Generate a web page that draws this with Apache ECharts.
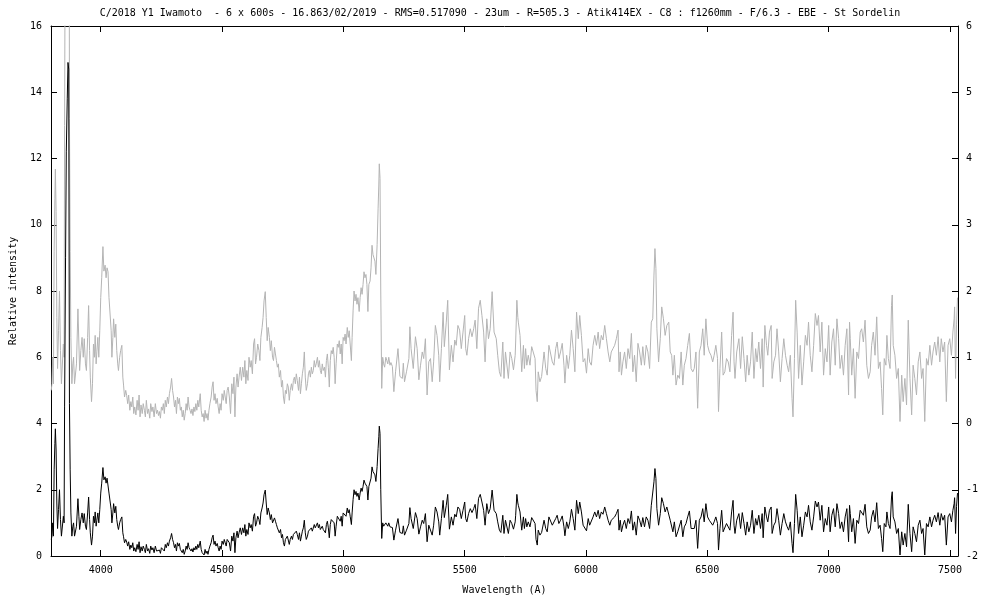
<!DOCTYPE html>
<html>
<head>
<meta charset="utf-8">
<script src="https://cdn.jsdelivr.net/npm/echarts@6/dist/echarts.min.js"></script>
<style>
html,body{margin:0;padding:0;background:#fff;}
#chart{width:1000px;height:600px;}
</style>
</head>
<body>
<div id="chart"></div>
<script>
const titleText = "C/2018 Y1 Iwamoto  - 6 x 600s - 16.863/02/2019 - RMS=0.517090 - 23um - R=505.3 - Atik414EX - C8 : f1260mm - F/6.3 - EBE - St Sordelin";
const xTicks = [4000, 4500, 5000, 5500, 6000, 6500, 7000, 7500];
const xRange = [3795, 7533];
const leftRange = [0, 16, 2];
const rightRange = [-2, 6, 1];

// spectrum segments: [wavelength (A), relative intensity]
const seg3800 = [[3796,0.5],[3799,0.6],[3802,1.0],[3805,0.6],[3808,2.6],[3811,3.4],[3813,3.84],[3816,3.2],[3819,1.6],[3822,0.83],[3826,1.4],[3830,2.0],[3834,1.1],[3838,0.6],[3842,0.58],[3846,1.2],[3849,1.0],[3851,4.5],[3855,9.0],[3858,12.2],[3862,13.8],[3865,14.9],[3868,14.7],[3871,4.6],[3874,2.6],[3877,1.3],[3881,0.6],[3885,0.9]];
const seg3900 = [[3888,1.0],[3892,0.6],[3896,0.58],[3900,0.9],[3906,1.73],[3910,1.2],[3913,0.8],[3918,1.1],[3923,1.3],[3928,1.0],[3932,1.28],[3937,0.9],[3941,0.8],[3946,1.3],[3950,1.78],[3954,1.1],[3957,0.7],[3962,0.33],[3966,0.6],[3970,1.2],[3974,1.0],[3977,1.33],[3981,0.9],[3984,1.08],[3988,1.3],[3992,1.0],[3996,1.4],[4000,1.9],[4004,2.2],[4009,2.67],[4013,2.3],[4018,2.39],[4022,2.2],[4026,2.35],[4030,2.29],[4034,1.9],[4039,1.89],[4043,1.4],[4046,1.0],[4050,1.3],[4053,1.58],[4058,1.3],[4062,1.5],[4066,1.1],[4070,0.9],[4073,0.8],[4078,1.0],[4082,1.1],[4087,1.18],[4091,0.7],[4094,0.58],[4098,0.4],[4103,0.5],[4107,0.42]];
const seg4100 = [[4111,0.30],[4115,0.43],[4120,0.2],[4124,0.33],[4128,0.25],[4132,0.4],[4136,0.15],[4140,0.25],[4145,0.13],[4150,0.35],[4154,0.2],[4158,0.43],[4162,0.1],[4166,0.28],[4171,0.15],[4175,0.3],[4180,0.2],[4184,0.1],[4188,0.35],[4193,0.15],[4197,0.22],[4202,0.08],[4206,0.3],[4211,0.18],[4215,0.25],[4220,0.1],[4225,0.3],[4230,0.15],[4234,0.2],[4238,0.12],[4242,0.18],[4246,0.08],[4250,0.25],[4254,0.2],[4258,0.3],[4262,0.15],[4266,0.35],[4270,0.25],[4275,0.4],[4279,0.3],[4283,0.45],[4288,0.55],[4292,0.68],[4296,0.5],[4300,0.4],[4304,0.25],[4308,0.35],[4312,0.15],[4316,0.4],[4320,0.3],[4324,0.38],[4328,0.2],[4332,0.25],[4336,0.1],[4340,0.2],[4344,0.05],[4348,0.15],[4352,0.3],[4356,0.2],[4360,0.4],[4364,0.25],[4368,0.2],[4372,0.15],[4376,0.22],[4380,0.12],[4384,0.25],[4388,0.18],[4392,0.3],[4396,0.2],[4400,0.35],[4404,0.25],[4410,0.45],[4414,0.2],[4418,0.1],[4422,0.15],[4426,0.03],[4430,0.2],[4434,0.08],[4438,0.15],[4442,0.05],[4446,0.2],[4450,0.3],[4455,0.4],[4459,0.55],[4463,0.63],[4467,0.35],[4471,0.45],[4475,0.3],[4480,0.38],[4484,0.25],[4488,0.15],[4492,0.3],[4496,0.2],[4500,0.45],[4505,0.35],[4509,0.5],[4513,0.4],[4517,0.3],[4521,0.5],[4525,0.55],[4530,0.4],[4535,0.15],[4540,0.6],[4545,0.45],[4549,0.7],[4553,0.1],[4557,0.55],[4562,0.75],[4566,0.55],[4570,0.7],[4575,0.85],[4580,0.65],[4585,0.85],[4590,0.7],[4594,0.95],[4598,0.6],[4602,0.8],[4607,0.65],[4611,1.0],[4616,0.85],[4620,0.95],[4625,0.75],[4630,1.2],[4634,1.28],[4638,0.9],[4642,1.0],[4647,1.2],[4652,1.1],[4656,0.95],[4660,1.3],[4665,1.45],[4669,1.6],[4673,1.85],[4678,1.99],[4682,1.6],[4686,1.25],[4690,1.45],[4695,1.3],[4699,1.1],[4703,1.25],[4708,1.0],[4712,0.95]];
const seg4700 = [[4716,1.15],[4720,1.05],[4724,0.95],[4728,0.85],[4732,0.9],[4736,0.7],[4741,0.8],[4745,0.55],[4749,0.65],[4753,0.4],[4757,0.3],[4761,0.5],[4765,0.45],[4769,0.6],[4773,0.55],[4777,0.35],[4781,0.5],[4786,0.6],[4790,0.5],[4794,0.65],[4798,0.7],[4802,0.6],[4806,0.75],[4810,0.65],[4815,0.5],[4819,0.7],[4823,0.45],[4827,0.6],[4831,0.75],[4835,0.85],[4839,1.08],[4843,0.7],[4847,0.5],[4852,0.6],[4856,0.75],[4860,0.8],[4864,0.7],[4868,0.85],[4872,0.75],[4876,0.8],[4880,0.95],[4884,0.85],[4888,0.9],[4893,1.0],[4897,0.85],[4901,0.95],[4905,0.8],[4909,0.75],[4913,0.9],[4917,0.8],[4922,0.85],[4926,0.7],[4930,0.95],[4934,1.05],[4938,0.85],[4942,0.55],[4946,0.95],[4950,1.1],[4954,1.05],[4958,1.15],[4962,1.0],[4966,0.6],[4970,0.9],[4975,1.2],[4979,1.15],[4983,1.25],[4987,1.05],[4991,1.2],[4995,0.9],[4999,1.3],[5003,1.25],[5007,1.35],[5011,1.2],[5016,1.45],[5020,1.3],[5024,1.4],[5028,1.2],[5033,0.95],[5036,1.3],[5040,1.7],[5044,2.0],[5048,1.85],[5052,1.95],[5056,1.8],[5060,1.9],[5065,1.69],[5069,1.9],[5073,2.05],[5077,1.95],[5081,2.1],[5085,2.29],[5089,2.2],[5093,2.25],[5097,2.1],[5101,1.69],[5105,2.1],[5110,2.15],[5114,2.35],[5118,2.69],[5122,2.55],[5126,2.5],[5130,2.45],[5134,2.25],[5139,2.7],[5143,3.24],[5146,3.6],[5148,3.92],[5151,3.7],[5154,2.0],[5158,0.53],[5162,1.0],[5166,0.9],[5170,0.85],[5175,1.0],[5179,0.95],[5183,0.9],[5187,1.0],[5192,0.88],[5196,0.92]];
const seg5200 = [[5202,0.86],[5208,0.48],[5215,0.78],[5225,1.13],[5233,0.71],[5243,0.68],[5247,0.91],[5252,0.63],[5260,0.78],[5270,0.98],[5274,1.46],[5279,1.13],[5288,0.83],[5297,1.31],[5304,1.13],[5311,0.66],[5318,0.88],[5325,1.08],[5331,0.98],[5338,1.28],[5345,0.43],[5352,0.93],[5359,0.98],[5366,0.63],[5372,0.93],[5379,1.48],[5386,1.33],[5393,1.03],[5397,0.63],[5404,1.13],[5411,1.68],[5416,1.16],[5424,1.53],[5430,1.86],[5437,0.81],[5445,1.18],[5452,0.93],[5459,1.26],[5465,1.18],[5472,1.48],[5479,1.41],[5486,1.13],[5493,1.38],[5500,1.63],[5504,1.13],[5509,1.03],[5516,1.28],[5523,1.43],[5530,1.31],[5537,1.43],[5543,1.56],[5550,1.13],[5557,1.74],[5564,1.86],[5571,1.63],[5578,1.38],[5584,0.93],[5591,1.58],[5598,1.28],[5605,1.43],[5613,1.99],[5621,1.38],[5630,1.28],[5636,1.03],[5643,0.78],[5649,0.71],[5657,1.23],[5662,0.68],[5668,1.08]];
const seg5700 = [[5674,1.06],[5680,0.68],[5687,1.08],[5694,0.98],[5701,0.81],[5708,1.03],[5710,1.23],[5715,1.86],[5719,1.6],[5721,1.53],[5728,1.33],[5735,0.78],[5742,1.18],[5746,0.83],[5751,1.13],[5756,0.88],[5762,1.03],[5769,0.88],[5776,1.16],[5783,1.18],[5790,0.98],[5794,0.50],[5799,0.33],[5803,0.78],[5810,0.63],[5817,0.71],[5827,1.08],[5834,0.83],[5840,0.73],[5847,1.18],[5855,1.18],[5861,0.93],[5868,0.88],[5875,1.13],[5881,1.23],[5888,0.98],[5895,1.08],[5902,1.21],[5909,0.88],[5913,0.61],[5920,1.03],[5927,0.83],[5933,1.03],[5940,1.41],[5947,1.13],[5954,0.78],[5961,1.68],[5968,1.28],[5974,1.63],[5981,1.33],[5988,0.93],[5995,0.98],[6002,0.76],[6009,1.13],[6015,0.93],[6022,0.88],[6029,1.18],[6036,1.33],[6043,1.18],[6050,1.38],[6056,1.13],[6063,1.33],[6070,1.26],[6077,1.48],[6084,1.28],[6091,1.08],[6098,0.93],[6104,1.08],[6111,1.13],[6118,1.18],[6125,1.28],[6132,1.41]];
const seg6100 = [[6136,0.78],[6141,1.08],[6146,0.73],[6152,0.93],[6159,1.08],[6166,0.83],[6173,1.13],[6180,0.98],[6187,1.36],[6193,0.78],[6200,1.03],[6207,0.63],[6214,1.21],[6221,1.08],[6228,0.88],[6234,1.16],[6241,0.88],[6248,1.18],[6255,1.08],[6262,0.83],[6269,1.53],[6275,1.58],[6280,2.24],[6284,2.64],[6288,2.34],[6292,1.43],[6299,0.93],[6306,1.28],[6312,1.76],[6319,1.58],[6326,1.33],[6333,1.48],[6341,1.53],[6347,1.08],[6353,1.03],[6358,0.73],[6364,1.03],[6371,0.58],[6378,0.73],[6385,0.68],[6392,1.08],[6399,0.58],[6405,0.88],[6412,0.98],[6419,1.18],[6426,1.36],[6433,0.83],[6440,0.78],[6446,0.83],[6453,1.08],[6460,0.23],[6467,1.08],[6474,1.18],[6481,1.43],[6487,1.03],[6494,1.58],[6501,1.18],[6508,1.08],[6515,1.03],[6522,0.93],[6528,1.03],[6535,1.18],[6542,0.98],[6546,0.18],[6552,0.83],[6559,1.38],[6565,0.73],[6572,0.78],[6579,0.98],[6586,0.93],[6593,0.78],[6600,1.33],[6606,1.68]];
const seg6600 = [[6610,0.93],[6614,0.68],[6621,1.08],[6630,1.28],[6637,0.83],[6644,1.31],[6651,0.98],[6658,0.63],[6664,1.03],[6671,0.73],[6678,0.93],[6685,1.38],[6692,0.68],[6699,1.13],[6705,0.93],[6712,1.23],[6719,0.83],[6726,1.28],[6730,0.55],[6737,1.48],[6744,1.18],[6749,1.03],[6756,1.38],[6763,1.48],[6767,0.68],[6774,0.93],[6781,1.03],[6787,1.43],[6794,1.08],[6801,0.63],[6808,0.98],[6815,1.28],[6822,1.03],[6829,0.88],[6835,0.78],[6842,1.03],[6849,0.38],[6853,0.10],[6859,0.98],[6864,1.86],[6870,1.38],[6876,0.68],[6883,1.18],[6890,0.58],[6897,0.93],[6904,1.33],[6911,1.18],[6917,1.53],[6924,1.03],[6931,0.78],[6938,1.18],[6945,1.66],[6952,1.48],[6958,1.63],[6965,1.08],[6972,1.53],[6979,0.73],[6986,1.13],[6993,0.93],[7000,1.48],[7006,0.73],[7013,1.23],[7020,1.43],[7027,0.88],[7034,1.58],[7041,1.28],[7047,0.83],[7054,1.03],[7061,0.73],[7068,1.18],[7075,1.43],[7082,0.43],[7086,1.53]];
const seg7100 = [[7089,1.28],[7095,0.73],[7102,1.13],[7109,0.38],[7116,1.08],[7123,0.98],[7130,1.38],[7136,1.43],[7143,1.23],[7150,1.56],[7157,0.88],[7164,0.68],[7171,0.78],[7177,1.18],[7184,1.38],[7191,1.03],[7198,1.61],[7205,0.83],[7212,0.93],[7218,0.53],[7223,0.13],[7229,0.98],[7236,0.88],[7240,1.33],[7246,0.98],[7253,0.83],[7259,1.78],[7262,1.94],[7266,1.18],[7273,1.03],[7280,0.68],[7287,0.83],[7294,0.03],[7301,0.73],[7307,0.33],[7314,0.68],[7321,0.28],[7328,1.56],[7335,0.68],[7342,0.13],[7348,0.88],[7355,0.68],[7362,0.43],[7369,0.93],[7376,1.08],[7383,0.68],[7389,0.83],[7396,0.03],[7403,0.98],[7410,0.88],[7417,1.18],[7424,0.88],[7430,1.08],[7437,1.23],[7444,1.03],[7451,1.31],[7458,0.93],[7464,1.28],[7471,1.08],[7478,1.23],[7485,0.33],[7492,1.18],[7499,1.28],[7506,1.03],[7512,1.38],[7517,1.58],[7519,1.76],[7523,0.68],[7527,1.5],[7531,1.9]];

const spectrum = [].concat(seg3800, seg3900, seg4100, seg4700, seg5200, seg5700, seg6100, seg6600, seg7100);

const FONT = "DejaVu Sans Mono";
const txt = {fontFamily: FONT, fontSize: 10, color: "#000"};
const plain = v => String(v);

const chart = echarts.init(document.getElementById("chart"), null, {renderer: "canvas"});
chart.setOption({
  animation: false,
  backgroundColor: "#fff",
  title: {
    text: titleText, left: "center", top: 8, padding: 0,
    textStyle: {fontFamily: FONT, fontSize: 10, fontWeight: "normal", color: "#000"}
  },
  grid: {left: 46, right: 42, top: 26, bottom: 42, containLabel: false},
  xAxis: [
    {
      type: "value", position: "bottom", min: xRange[0], max: xRange[1],
      name: "Wavelength (A)", nameLocation: "middle", nameGap: 29, nameTextStyle: txt,
      axisLine: {show: true, onZero: false, lineStyle: {color: "#000", width: 1}},
      axisTick: {show: true, inside: true, length: 6, customValues: xTicks, lineStyle: {color: "#000"}},
      axisLabel: {show: true, customValues: xTicks, margin: 9, formatter: plain, ...txt},
      splitLine: {show: false}
    },
    {
      type: "value", position: "top", min: xRange[0], max: xRange[1],
      axisLine: {show: true, onZero: false, lineStyle: {color: "#000", width: 1}},
      axisTick: {show: true, inside: true, length: 6, customValues: xTicks, lineStyle: {color: "#000"}},
      axisLabel: {show: false},
      splitLine: {show: false}
    }
  ],
  yAxis: [
    {
      type: "value", position: "left", min: leftRange[0], max: leftRange[1], interval: leftRange[2],
      name: "Relative intensity", nameLocation: "middle", nameGap: 33, nameRotate: 90, nameTextStyle: txt,
      axisLine: {show: true, onZero: false, lineStyle: {color: "#000", width: 1}},
      axisTick: {show: true, inside: true, length: 6, lineStyle: {color: "#000"}},
      axisLabel: {show: true, margin: 9, formatter: plain, ...txt},
      splitLine: {show: false}
    },
    {
      type: "value", position: "right", min: rightRange[0], max: rightRange[1], interval: rightRange[2],
      axisLine: {show: true, onZero: false, lineStyle: {color: "#000", width: 1}},
      axisTick: {show: true, inside: true, length: 6, lineStyle: {color: "#000"}},
      axisLabel: {show: true, margin: 8, formatter: plain, ...txt},
      splitLine: {show: false}
    }
  ],
  series: [
    {
      type: "line", name: "scaled", xAxisIndex: 0, yAxisIndex: 1, data: spectrum,
      showSymbol: false, symbol: "none", clip: true,
      lineStyle: {color: "#b4b4b4", width: 1}
    },
    {
      type: "line", name: "spectrum", xAxisIndex: 0, yAxisIndex: 0, data: spectrum,
      showSymbol: false, symbol: "none", clip: true,
      lineStyle: {color: "#000", width: 1}
    }
  ]
});
</script>
</body>
</html>
